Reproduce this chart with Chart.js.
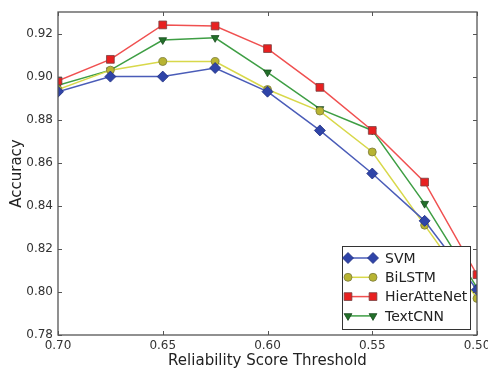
<!DOCTYPE html>
<html>
<head>
<meta charset="utf-8">
<script src="https://cdn.jsdelivr.net/npm/chart.js@4/dist/chart.umd.min.js"></script>
<style>
  html, body { margin:0; padding:0; background:#fff; }
  #wrap { width:488px; height:370px; }
</style>
</head>
<body>
<div id="wrap"><canvas id="acc-chart" width="488" height="370"></canvas></div>
<script>
/* ---- data ---- */
const THRESHOLDS = [0.70, 0.675, 0.65, 0.625, 0.60, 0.575, 0.55, 0.525, 0.50];
const SVM        = [0.893, 0.900, 0.900, 0.904, 0.893, 0.875, 0.855, 0.833, 0.801];
const BILSTM     = [0.894, 0.903, 0.907, 0.907, 0.894, 0.884, 0.865, 0.831, 0.797];
const HIER       = [0.898, 0.908, 0.924, 0.9235, 0.913, 0.895, 0.875, 0.851, 0.808];
const TEXTCNN    = [0.896, 0.903, 0.917, 0.918, 0.902, 0.885, 0.875, 0.841, 0.802];
const X_TICKS    = [0.70, 0.65, 0.60, 0.55, 0.50];
const Y_TICKS    = [0.78, 0.80, 0.82, 0.84, 0.86, 0.88, 0.90, 0.92];

const FONT = "'DejaVu Sans', sans-serif";
const FRAME = '#555';

const pts = arr => arr.map((v, i) => ({ x: THRESHOLDS[i], y: v }));

const series = [
  { label:'SVM',         data: pts(SVM),     line:'#4a5cb8', face:'#2f44a8', edge:'#1f2f80', style:'rectRot',  r:5.5, rot:0 },
  { label:'BiLSTM',      data: pts(BILSTM),  line:'#d8d84a', face:'#b8b432', edge:'#7a7a3a', style:'circle',   r:4,   rot:0 },
  { label:'HierAtteNet', data: pts(HIER),    line:'#f05050', face:'#e82020', edge:'#7a4040', style:'rect',     r:5.5, rot:0 },
  { label:'TextCNN',     data: pts(TEXTCNN), line:'#3e9e44', face:'#22702a', edge:'#1a4a1f', style:'triangle', r:4.5, rot:180 },
];

/* frame + inward ticks on all four sides */
const framePlugin = {
  id:'frame',
  afterDraw(chart) {
    const { ctx, chartArea: a, scales: { x, y } } = chart;
    ctx.save();
    ctx.strokeStyle = FRAME;
    ctx.lineWidth = 1.3;
    ctx.strokeRect(a.left, a.top, a.right - a.left, a.bottom - a.top);
    ctx.lineWidth = 1;
    ctx.beginPath();
    X_TICKS.forEach(v => {
      const px = Math.round(x.getPixelForValue(v)) + 0.5;
      ctx.moveTo(px, a.bottom); ctx.lineTo(px, a.bottom - 4);
      ctx.moveTo(px, a.top);    ctx.lineTo(px, a.top + 4);
    });
    Y_TICKS.forEach(v => {
      const py = Math.round(y.getPixelForValue(v)) + 0.5;
      ctx.moveTo(a.left, py);  ctx.lineTo(a.left + 4, py);
      ctx.moveTo(a.right, py); ctx.lineTo(a.right - 4, py);
    });
    ctx.stroke();
    ctx.restore();
  }
};

/* matplotlib-style legend: line with a marker at each end, boxed at lower right */
const legendPlugin = {
  id:'mplLegend',
  afterDraw(chart) {
    const { ctx, chartArea: a } = chart;
    const boxW = 128, boxH = 83, rowH = 19.3;
    const bx = a.right - 7 - boxW, by = a.bottom - 6 - boxH;
    ctx.save();
    ctx.fillStyle = '#fff';
    ctx.fillRect(bx, by, boxW, boxH);
    ctx.strokeStyle = '#333';
    ctx.lineWidth = 1;
    ctx.strokeRect(bx + 0.5, by + 0.5, boxW, boxH);
    ctx.font = `14px ${FONT}`;
    ctx.textBaseline = 'middle';
    series.forEach((s, i) => {
      const yy = by + 12 + i * rowH;
      const x0 = bx + 6, x1 = bx + 31;
      ctx.strokeStyle = s.line;
      ctx.lineWidth = 1.5;
      ctx.beginPath(); ctx.moveTo(x0, yy); ctx.lineTo(x1, yy); ctx.stroke();
      [x0, x1].forEach(px => {
        ctx.fillStyle = s.face;
        ctx.strokeStyle = s.edge;
        ctx.lineWidth = 0.8;
        Chart.helpers.drawPoint(ctx, { pointStyle: s.style, radius: s.r, rotation: s.rot, borderWidth: 0.8 }, px, yy);
      });
      ctx.fillStyle = '#222';
      ctx.fillText(s.label, bx + 43, yy + 1);
    });
    ctx.restore();
  }
};

new Chart(document.getElementById('acc-chart'), {
  type:'line',
  data:{
    datasets: series.map(s => ({
      label: s.label, data: s.data,
      borderColor: s.line, borderWidth: 1.5,
      pointStyle: s.style, pointRadius: s.r, pointRotation: s.rot,
      pointBackgroundColor: s.face, pointBorderColor: s.edge, pointBorderWidth: 0.8,
      pointHoverRadius: s.r, tension: 0, fill: false,
    })),
  },
  options:{
    responsive:false, animation:false,
    layout:{ padding:{ top:12, right:11, left:0, bottom:0 } },
    plugins:{ legend:{ display:false }, tooltip:{ enabled:false } },
    scales:{
      x:{
        type:'linear', reverse:true, min:0.50, max:0.70,
        afterBuildTicks: sc => { sc.ticks = X_TICKS.map(v => ({ value:v })); },
        afterFit: sc => { sc.height = 35; sc.paddingLeft = 0; sc.paddingRight = 0; },
        grid:{ display:false, drawTicks:false },
        border:{ display:false },
        ticks:{ color:'#333', padding:4, font:{ family:FONT, size:12 }, maxRotation:0,
                callback: v => Number(v).toFixed(2) },
        title:{ display:true, text:'Reliability Score Threshold', color:'#222',
                font:{ family:FONT, size:15 }, padding:{ top:0, bottom:0 } },
      },
      y:{
        min:0.78, max:0.93,
        afterBuildTicks: sc => { sc.ticks = Y_TICKS.map(v => ({ value:v })); },
        afterFit: sc => { sc.width = 58; sc.paddingTop = 0; sc.paddingBottom = 0; },
        grid:{ display:false, drawTicks:false },
        border:{ display:false },
        ticks:{ color:'#333', padding:5, font:{ family:FONT, size:12 },
                callback: v => Number(v).toFixed(2) },
        title:{ display:true, text:'Accuracy', color:'#222',
                font:{ family:FONT, size:15 }, padding:{ top:8, bottom:0 } },
      },
    },
  },
  plugins:[framePlugin, legendPlugin],
});
</script>
</body>
</html>
